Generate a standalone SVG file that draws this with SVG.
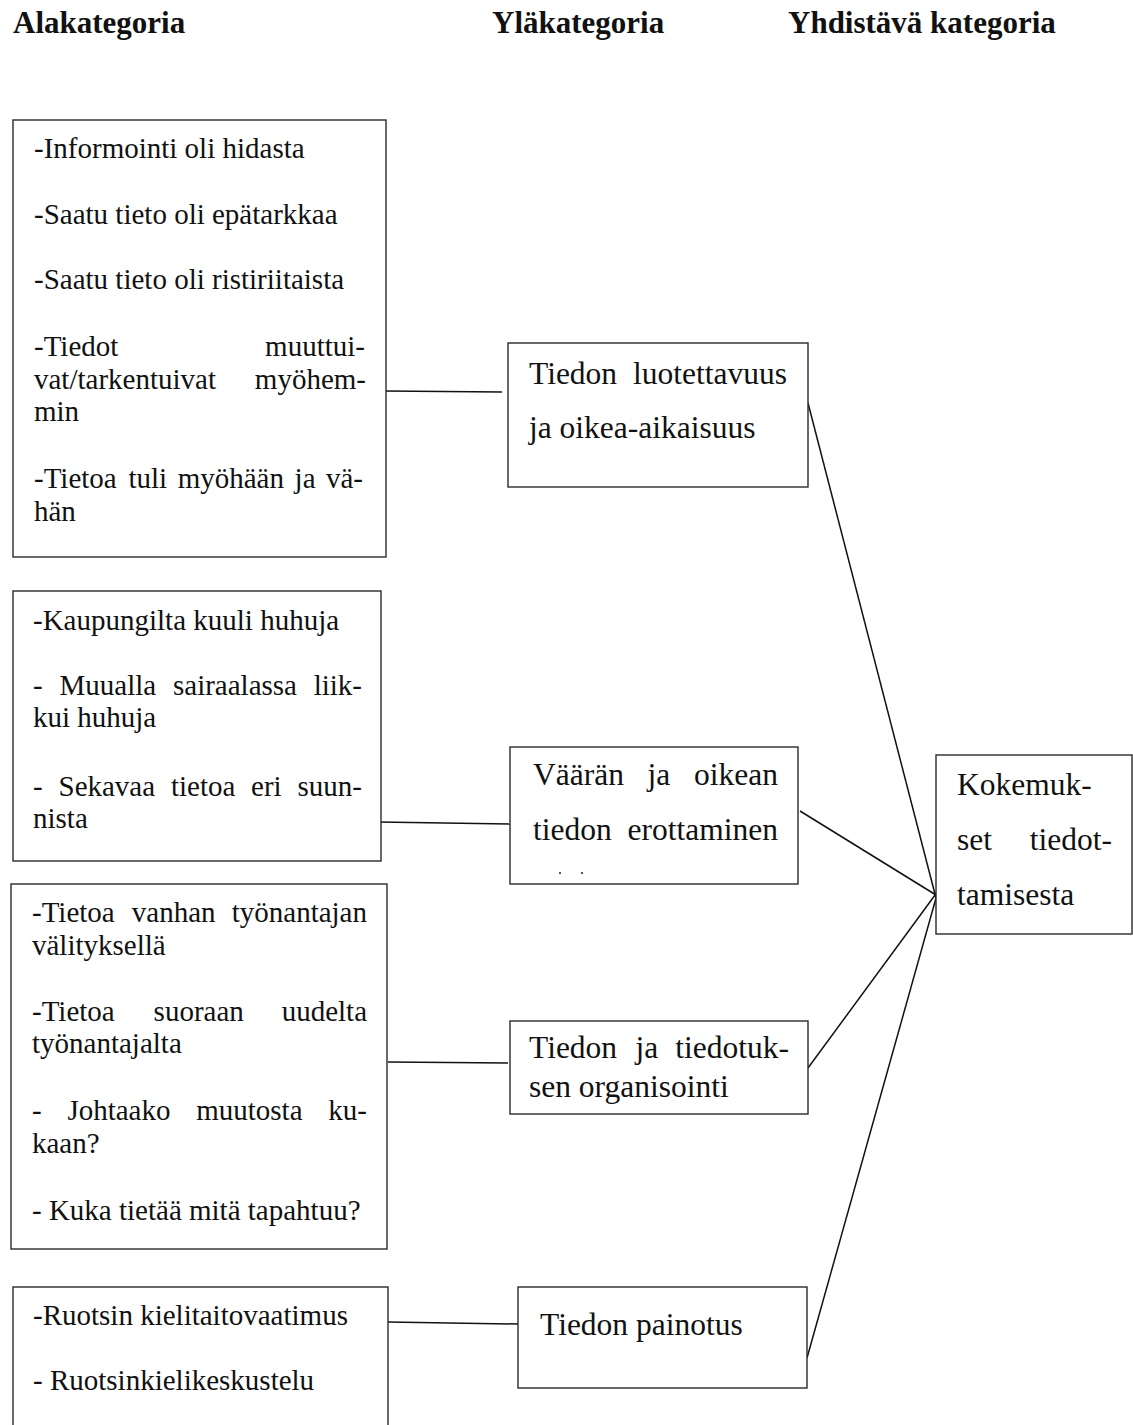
<svg xmlns="http://www.w3.org/2000/svg" width="1133" height="1425" viewBox="0 0 1133 1425">
<style>
text{font-family:"Liberation Serif","Times New Roman",serif;fill:#111;}
.b{font-size:29px;}
.c{font-size:31.5px;}
.h{font-size:31px;font-weight:bold;}
.box{fill:#fff;stroke:#2a2a2a;stroke-width:1.4;}
.e{text-anchor:end;}
#connectors line{stroke:#111;stroke-width:1.5;}
</style>
<rect width="1133" height="1425" fill="#fff"/>
<g id="headers">
<text class="h" x="13" y="33">Alakategoria</text>
<text class="h" x="492" y="33">Yläkategoria</text>
<text class="h" x="788" y="33">Yhdistävä kategoria</text>
</g>
<g id="connectors">
<line x1="384" y1="391" x2="502" y2="392"/>
<line x1="378" y1="822" x2="510" y2="824"/>
<line x1="388" y1="1062" x2="508" y2="1063"/>
<line x1="388" y1="1322" x2="518" y2="1324"/>
<line x1="808" y1="403" x2="936" y2="898"/>
<line x1="800" y1="811" x2="936" y2="895"/>
<line x1="808" y1="1068" x2="938" y2="891"/>
<line x1="807" y1="1358" x2="938" y2="891"/>
</g>
<g id="box1">
<rect class="box" x="13" y="120" width="373" height="437"/>
<text class="b" x="34" y="158">-Informointi oli hidasta</text>
<text class="b" x="34" y="224">-Saatu tieto oli epätarkkaa</text>
<text class="b" x="34" y="289">-Saatu tieto oli ristiriitaista</text>
<text class="b" x="34" y="356">-Tiedot</text><text class="b e" x="365" y="356">muuttui-</text>
<text class="b" x="34" y="389">vat/tarkentuivat</text><text class="b e" x="366" y="389">myöhem-</text>
<text class="b" x="34" y="421">min</text>
<text class="b" x="34" y="488">-Tietoa</text><text class="b" x="128.4" y="488">tuli</text><text class="b" x="177.7" y="488">myöhään</text><text class="b" x="294.6" y="488">ja</text><text class="b e" x="363" y="488">vä-</text>
<text class="b" x="34" y="521">hän</text>
</g>
<g id="box2">
<rect class="box" x="13" y="591" width="368" height="270"/>
<text class="b" x="33" y="630">-Kaupungilta kuuli huhuja</text>
<text class="b" x="33" y="695">-</text><text class="b" x="59.5" y="695">Muualla</text><text class="b" x="173" y="695">sairaalassa</text><text class="b e" x="362" y="695">liik-</text>
<text class="b" x="33" y="727">kui huhuja</text>
<text class="b" x="33" y="796">-</text><text class="b" x="58.5" y="796">Sekavaa</text><text class="b" x="170.9" y="796">tietoa</text><text class="b" x="251.1" y="796">eri</text><text class="b e" x="362" y="796">suun-</text>
<text class="b" x="33" y="828">nista</text>
</g>
<g id="box3">
<rect class="box" x="11" y="884" width="376" height="365"/>
<text class="b" x="32" y="922">-Tietoa</text><text class="b" x="131.8" y="922">vanhan</text><text class="b e" x="367" y="922">työnantajan</text>
<text class="b" x="32" y="955">välityksellä</text>
<text class="b" x="32" y="1021">-Tietoa</text><text class="b" x="153.6" y="1021">suoraan</text><text class="b e" x="367" y="1021">uudelta</text>
<text class="b" x="32" y="1053">työnantajalta</text>
<text class="b" x="32" y="1120">-</text><text class="b" x="67.4" y="1120">Johtaako</text><text class="b" x="196.2" y="1120">muutosta</text><text class="b e" x="367" y="1120">ku-</text>
<text class="b" x="32" y="1153">kaan?</text>
<text class="b" x="32" y="1220">- Kuka tietää mitä tapahtuu?</text>
</g>
<g id="box4">
<rect class="box" x="13" y="1287" width="375" height="160"/>
<text class="b" x="33" y="1325">-Ruotsin kielitaitovaatimus</text>
<text class="b" x="33" y="1390">- Ruotsinkielikeskustelu</text>
</g>
<g id="ylä1">
<rect class="box" x="508" y="343" width="300" height="144"/>
<text class="c" x="529" y="384">Tiedon</text><text class="c e" x="787" y="384">luotettavuus</text>
<text class="c" x="529" y="438">ja oikea-aikaisuus</text>
</g>
<g id="ylä2">
<rect class="box" x="510" y="747" width="288" height="137"/>
<text class="c" x="533" y="785">Väärän</text><text class="c" x="647.6" y="785">ja</text><text class="c e" x="778" y="785">oikean</text>
<text class="c" x="533" y="840">tiedon</text><text class="c e" x="778" y="840">erottaminen</text>
<rect x="559" y="872" width="2" height="2" fill="#555"/>
<rect x="581" y="872" width="2" height="2" fill="#555"/>
</g>
<g id="ylä3">
<rect class="box" x="510" y="1021" width="298" height="93"/>
<text class="c" x="529" y="1058">Tiedon</text><text class="c" x="635.4" y="1058">ja</text><text class="c e" x="789" y="1058">tiedotuk-</text>
<text class="c" x="529" y="1097">sen organisointi</text>
</g>
<g id="ylä4">
<rect class="box" x="518" y="1287" width="289" height="101"/>
<text class="c" x="540" y="1335">Tiedon painotus</text>
</g>
<g id="yhdistävä">
<rect class="box" x="936" y="755" width="196" height="179"/>
<text class="c" x="957" y="795">Kokemuk-</text>
<text class="c" x="957" y="850">set</text><text class="c e" x="1112" y="850">tiedot-</text>
<text class="c" x="957" y="905">tamisesta</text>
</g>
</svg>
